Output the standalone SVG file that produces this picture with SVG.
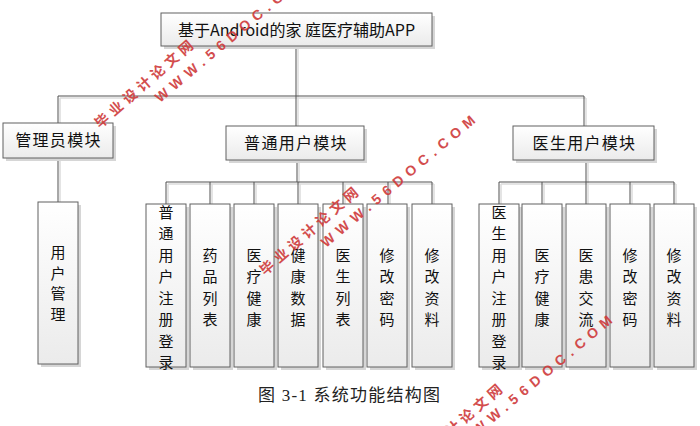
<svg xmlns="http://www.w3.org/2000/svg" width="700" height="426" viewBox="0 0 700 426">
<defs>
<linearGradient id="g" x1="0" y1="0" x2="0" y2="1">
<stop offset="0" stop-color="#ffffff"/>
<stop offset="1" stop-color="#ebebeb"/>
</linearGradient>
<style>
.box{fill:url(#g);stroke:#606060;stroke-width:1}
.sh{fill:#d6d6d6}
.ln{fill:none;stroke:#505050;stroke-width:1}
.lns{fill:none;stroke:#dcdcdc;stroke-width:1.5}
.t{font-family:"Noto Sans CJK SC","Microsoft YaHei",sans-serif;font-size:16px;fill:#111;text-anchor:middle}
.m{letter-spacing:1.3px}
.v{font-family:"Noto Sans CJK SC",sans-serif;font-size:15px;fill:#111;text-anchor:middle}
.cap{font-family:"Liberation Serif","Noto Sans CJK SC",serif;font-size:17px;fill:#222;text-anchor:middle}
.wm{font-family:"Liberation Sans","Noto Sans CJK SC",sans-serif;font-weight:bold;font-size:14px;fill:#cf3a3a;opacity:0.9}
</style>
</defs>
<rect width="700" height="426" fill="#ffffff"/>

<g id="connectors">
<path class="lns" d="M298,48V98M60,98H586M60,98V123M298,98V126M586,98V126M60,160V202M299,162V184M168,184H434M168,184V204M212,184V204M256,184V204M300,184V204M345,184V204M390,184V204M434,184V204M588,162V184M501,184H676M501,184V204M544,184V204M588,184V204M632,184V204M676,184V204"/>
<path class="ln" d="M296,46V96M58,96H584M58,96V123M296,96V126M584,96V126M58,158V202M297,160V182M166,182H432M166,182V204M210,182V204M254,182V204M298,182V204M343,182V204M388,182V204M432,182V204M586,160V182M499,182H674M499,182V204M542,182V204M586,182V204M630,182V204M674,182V204"/>
</g>

<g id="root">
<rect class="sh" x="164" y="16" width="271" height="33"/>
<rect class="box" x="161" y="13" width="271" height="33"/>
<text class="t" x="296.5" y="36">基于Android的家 庭医疗辅助APP</text>
</g>

<g id="admin">
<rect class="sh" x="6" y="126" width="110" height="35"/>
<rect class="box" x="3" y="123" width="110" height="35"/>
<text class="t m" x="58.5" y="146">管理员模块</text>
</g>
<g id="user">
<rect class="sh" x="229" y="129" width="138" height="34"/>
<rect class="box" x="226" y="126" width="138" height="34"/>
<text class="t m" x="296" y="149">普通用户模块</text>
</g>
<g id="doctor">
<rect class="sh" x="516" y="129" width="141" height="34"/>
<rect class="box" x="513" y="126" width="141" height="34"/>
<text class="t m" x="584.5" y="149">医生用户模块</text>
</g>

<g id="admin-user-manage">
<rect class="sh" x="41" y="205" width="40" height="162"/>
<rect class="box" x="38" y="202" width="40" height="162"/>
<text class="v" x="58"><tspan x="58" y="258">用</tspan><tspan x="58" y="278.5">户</tspan><tspan x="58" y="299">管</tspan><tspan x="58" y="319.5">理</tspan></text>
</g>

<g id="u1">
<rect class="sh" x="149" y="207" width="40" height="163"/>
<rect class="box" x="146" y="204" width="40" height="163"/>
<text class="v"><tspan x="166" y="217.5">普</tspan><tspan x="166" y="239">通</tspan><tspan x="166" y="260.5">用</tspan><tspan x="166" y="282">户</tspan><tspan x="166" y="303.5">注</tspan><tspan x="166" y="325">册</tspan><tspan x="166" y="346.5">登</tspan><tspan x="166" y="368">录</tspan></text>
</g>
<g id="u2">
<rect class="sh" x="193" y="207" width="40" height="163"/>
<rect class="box" x="190" y="204" width="40" height="163"/>
<text class="v"><tspan x="210" y="260.5">药</tspan><tspan x="210" y="282">品</tspan><tspan x="210" y="303.5">列</tspan><tspan x="210" y="325">表</tspan></text>
</g>
<g id="u3">
<rect class="sh" x="237" y="207" width="40" height="163"/>
<rect class="box" x="234" y="204" width="40" height="163"/>
<text class="v"><tspan x="254" y="260.5">医</tspan><tspan x="254" y="282">疗</tspan><tspan x="254" y="303.5">健</tspan><tspan x="254" y="325">康</tspan></text>
</g>
<g id="u4">
<rect class="sh" x="281" y="207" width="40" height="163"/>
<rect class="box" x="278" y="204" width="40" height="163"/>
<text class="v"><tspan x="298" y="260.5">健</tspan><tspan x="298" y="282">康</tspan><tspan x="298" y="303.5">数</tspan><tspan x="298" y="325">据</tspan></text>
</g>
<g id="u5">
<rect class="sh" x="326" y="207" width="40" height="163"/>
<rect class="box" x="323" y="204" width="40" height="163"/>
<text class="v"><tspan x="343" y="260.5">医</tspan><tspan x="343" y="282">生</tspan><tspan x="343" y="303.5">列</tspan><tspan x="343" y="325">表</tspan></text>
</g>
<g id="u6">
<rect class="sh" x="370" y="207" width="40" height="163"/>
<rect class="box" x="367" y="204" width="40" height="163"/>
<text class="v"><tspan x="387" y="260.5">修</tspan><tspan x="387" y="282">改</tspan><tspan x="387" y="303.5">密</tspan><tspan x="387" y="325">码</tspan></text>
</g>
<g id="u7">
<rect class="sh" x="415" y="207" width="40" height="163"/>
<rect class="box" x="412" y="204" width="40" height="163"/>
<text class="v"><tspan x="432" y="260.5">修</tspan><tspan x="432" y="282">改</tspan><tspan x="432" y="303.5">资</tspan><tspan x="432" y="325">料</tspan></text>
</g>

<g id="d1">
<rect class="sh" x="482" y="207" width="40" height="163"/>
<rect class="box" x="479" y="204" width="40" height="163"/>
<text class="v"><tspan x="499" y="217.5">医</tspan><tspan x="499" y="239">生</tspan><tspan x="499" y="260.5">用</tspan><tspan x="499" y="282">户</tspan><tspan x="499" y="303.5">注</tspan><tspan x="499" y="325">册</tspan><tspan x="499" y="346.5">登</tspan><tspan x="499" y="368">录</tspan></text>
</g>
<g id="d2">
<rect class="sh" x="525" y="207" width="40" height="163"/>
<rect class="box" x="522" y="204" width="40" height="163"/>
<text class="v"><tspan x="542" y="260.5">医</tspan><tspan x="542" y="282">疗</tspan><tspan x="542" y="303.5">健</tspan><tspan x="542" y="325">康</tspan></text>
</g>
<g id="d3">
<rect class="sh" x="569" y="207" width="40" height="163"/>
<rect class="box" x="566" y="204" width="40" height="163"/>
<text class="v"><tspan x="586" y="260.5">医</tspan><tspan x="586" y="282">患</tspan><tspan x="586" y="303.5">交</tspan><tspan x="586" y="325">流</tspan></text>
</g>
<g id="d4">
<rect class="sh" x="613" y="207" width="40" height="163"/>
<rect class="box" x="610" y="204" width="40" height="163"/>
<text class="v"><tspan x="630" y="260.5">修</tspan><tspan x="630" y="282">改</tspan><tspan x="630" y="303.5">密</tspan><tspan x="630" y="325">码</tspan></text>
</g>
<g id="d5">
<rect class="sh" x="657" y="207" width="40" height="163"/>
<rect class="box" x="654" y="204" width="40" height="163"/>
<text class="v"><tspan x="674" y="260.5">修</tspan><tspan x="674" y="282">改</tspan><tspan x="674" y="303.5">资</tspan><tspan x="674" y="325">料</tspan></text>
</g>

<text class="cap" x="349" y="401" textLength="182" lengthAdjust="spacing">图 3-1 系统功能结构图</text>

<g id="watermarks">
<text class="wm" transform="translate(100,129) rotate(-41)" textLength="125" lengthAdjust="spacing">毕业设计论文网</text>
<text class="wm" transform="translate(160,103) rotate(-40)" textLength="196" lengthAdjust="spacing">WWW.56DOC.COM</text>
<text class="wm" transform="translate(265,276) rotate(-41)" textLength="125" lengthAdjust="spacing">毕业设计论文网</text>
<text class="wm" transform="translate(326,248) rotate(-40)" textLength="196" lengthAdjust="spacing">WWW.56DOC.COM</text>
<text class="wm" transform="translate(409,473) rotate(-41)" textLength="125" lengthAdjust="spacing">毕业设计论文网</text>
<text class="wm" transform="translate(463,448) rotate(-40)" textLength="196" lengthAdjust="spacing">WWW.56DOC.COM</text>
</g>
</svg>
